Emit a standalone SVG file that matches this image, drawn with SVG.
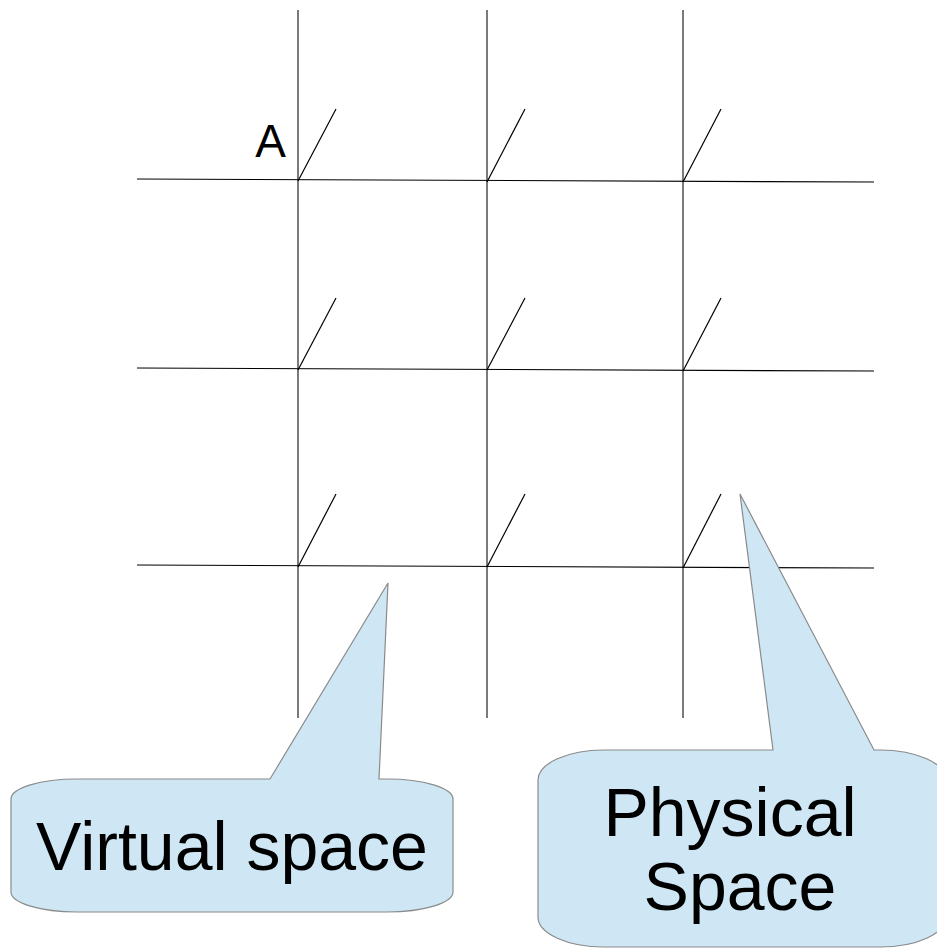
<svg xmlns="http://www.w3.org/2000/svg" width="937" height="949" viewBox="0 0 937 949">
<style>
.g{stroke:#000;stroke-width:1.2;fill:none}
.v{stroke:#222;stroke-width:1.2;fill:none}
.c{fill:#cfe7f5;stroke:#8a8a8a;stroke-width:1.2}
.t{font-family:"Liberation Sans",Arial,sans-serif;fill:#000}
</style>
<rect width="937" height="949" fill="#fff"/>
<g id="connectors">
<line class="v" x1="298" y1="10" x2="298" y2="718"/>
<line class="v" x1="487" y1="10" x2="487" y2="718"/>
<line class="v" x1="683" y1="10" x2="683" y2="718"/>
<line class="g" x1="137" y1="179" x2="874" y2="182"/>
<line class="g" x1="137" y1="368" x2="874" y2="371"/>
<line class="g" x1="137" y1="565" x2="874" y2="568"/>
<line class="g" x1="298" y1="181" x2="336" y2="109"/>
<line class="g" x1="487" y1="182" x2="525" y2="109"/>
<line class="g" x1="683" y1="182" x2="721" y2="109"/>
<line class="g" x1="298" y1="370" x2="336" y2="298"/>
<line class="g" x1="487" y1="370" x2="525" y2="298"/>
<line class="g" x1="683" y1="371" x2="721" y2="298"/>
<line class="g" x1="298" y1="567" x2="336" y2="494"/>
<line class="g" x1="487" y1="567" x2="525" y2="494"/>
<line class="g" x1="683" y1="568" x2="721" y2="494"/>
</g>
<g id="labelA">
<text class="t" x="270.5" y="157" font-size="46" text-anchor="middle">A</text>
</g>
<g id="virtual">
<path class="c" d="M11,799 A66 20 0 0 1 77,779 L270,779 L388,583 L379,779 L387,779 A66 20 0 0 1 453,799 L453,892 A66 20 0 0 1 387,912 L77,912 A66 20 0 0 1 11,892 Z"/>
<text class="t" x="232" y="870" font-size="68" text-anchor="middle">Virtual space</text>
</g>
<g id="physical">
<path class="c" d="M538,780 A66 30 0 0 1 604,750 L773,750 L740,494 L874,750 L880,750 A66 30 0 0 1 946,780 L946,917 A66 30 0 0 1 880,947 L604,947 A66 30 0 0 1 538,917 Z"/>
<text class="t" x="730" y="836" font-size="68" text-anchor="middle">Physical</text>
<text class="t" x="740" y="910" font-size="68" text-anchor="middle">Space</text>
</g>
</svg>
